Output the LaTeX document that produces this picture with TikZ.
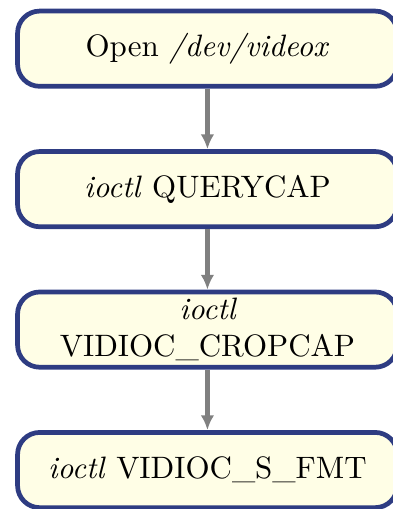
\documentclass[tikz,border=0pt]{standalone}
\usepackage{tikz}
\usetikzlibrary{positioning,arrows.meta}
\definecolor{stepline}{RGB}{46,60,130}
\tikzset{
  stepbox/.style={draw=stepline, line width=1.6pt, fill=yellow!10, rounded corners=7.5pt,
    minimum width=128.7pt, minimum height=25.5pt, text width=114pt, align=center, inner ysep=2pt,
    font=\fontsize{10.5}{12.4}\selectfont,
    execute at begin node={\hyphenpenalty=10000\relax}},
  flow/.style={draw=gray, line width=1.5pt, -{Latex[length=5pt,width=4.6pt]}}
}

\begin{document}
\begin{tikzpicture}[node distance=20.5pt]
		%%%%% START %%%%%
		\useasboundingbox (0,0) rectangle (132.9pt,-172.5pt);
		
		\node[stepbox] (open) at (70.3pt,-16.5pt) {Open \emph{/dev/videox}};
		\node[stepbox, below=of open] (querycap) {\emph{ioctl} QUERYCAP};
		\node[stepbox, below=of querycap] (cropcap) {\emph{ioctl} VIDIOC\_CROPCAP};
		\node[stepbox, below=of cropcap] (sfmt) {\emph{ioctl} VIDIOC\_S\_FMT};
		
		\draw[flow] (open) -- (querycap);
		\draw[flow] (querycap) -- (cropcap);
		\draw[flow] (cropcap) -- (sfmt);
		%%%%% END %%%%%
\end{tikzpicture}
\end{document}
